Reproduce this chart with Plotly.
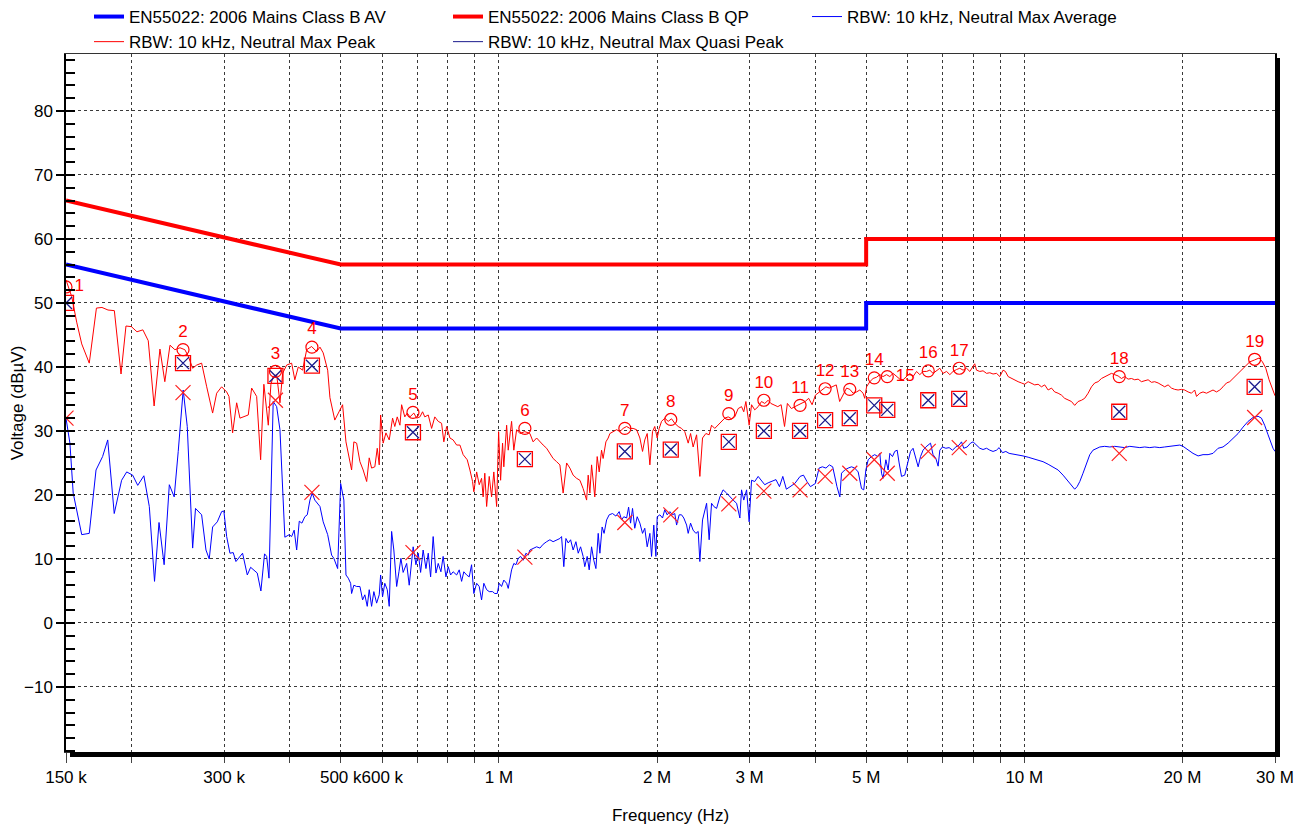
import plotly.graph_objects as go

# ---------------- data (frequencies in MHz, levels in dBuV) ----------------
limit_freq = [0.15, 0.5, 5.0, 5.0, 30.0]
limit_qp = [66, 56, 56, 60, 60]
limit_av = [56, 46, 46, 50, 50]

peak_freq = [0.150, 0.1538, 0.1572, 0.1607, 0.1661, 0.1714, 0.1756, 0.1803, 0.1854, 0.1909,
             0.1951, 0.1998, 0.2047, 0.2101, 0.2151, 0.2207, 0.2264, 0.2313, 0.2366, 0.2417,
             0.2472, 0.2525, 0.2563, 0.2613, 0.2660, 0.2718, 0.2779, 0.2852, 0.2903, 0.2967,
             0.3033, 0.3064, 0.3113, 0.3169, 0.3215, 0.3271, 0.3334, 0.3384, 0.3459, 0.3520,
             0.3570, 0.3640, 0.3682, 0.3719, 0.3776, 0.3831, 0.3876, 0.3945, 0.4032, 0.4089,
             0.4151, 0.4231, 0.4307, 0.4401, 0.4500, 0.4565, 0.4630, 0.4722, 0.4769, 0.4872,
             0.4983, 0.5041, 0.5116, 0.5244, 0.5296, 0.5361, 0.5439, 0.5517, 0.5602, 0.5665,
             0.5724, 0.5806, 0.5868, 0.5919, 0.5955, 0.6022, 0.6096, 0.6184, 0.6276, 0.6337,
             0.6405, 0.6481, 0.6529, 0.6621, 0.6692, 0.6771, 0.6888, 0.6974, 0.7074, 0.7157,
             0.7227, 0.7337, 0.7446, 0.7551, 0.7665, 0.7779, 0.7856, 0.7953, 0.8068, 0.8183,
             0.8310, 0.8430, 0.8550, 0.8704, 0.8807, 0.8910, 0.8960, 0.9071, 0.9174, 0.9269,
             0.9333, 0.9401, 0.9477, 0.9585, 0.9685, 0.9780, 0.9901, 0.9988, 1.0075, 1.0162,
             1.0218, 1.0345, 1.0417, 1.0572, 1.0676, 1.0808, 1.0965, 1.1202, 1.1455, 1.1618,
             1.1798, 1.1969, 1.2140, 1.2326, 1.2504, 1.2682, 1.2879, 1.3065, 1.3251, 1.3456,
             1.3650, 1.3845, 1.4058, 1.4262, 1.4465, 1.4687, 1.4790, 1.4900, 1.5010, 1.5112,
             1.5222, 1.5385, 1.5520, 1.5682, 1.5789, 1.5983, 1.6144, 1.6264, 1.6496, 1.6751,
             1.6993, 1.7235, 1.7501, 1.7754, 1.8007, 1.8286, 1.8550, 1.8767, 1.8951, 1.9154,
             1.9380, 1.9607, 1.9799, 2.0011, 2.0187, 2.0397, 2.0686, 2.0999, 2.1311, 2.1612,
             2.1940, 2.2266, 2.2581, 2.2923, 2.3164, 2.3423, 2.3783, 2.4127, 2.4409, 2.4772,
             2.5131, 2.5394, 2.5753, 2.6142, 2.6531, 2.6906, 2.7314, 2.7720, 2.8112, 2.8537,
             2.8961, 2.9246, 2.9517, 2.9945, 3.0258, 3.0686, 3.1150, 3.1613, 3.2060, 3.2546,
             3.2930, 3.3413, 3.3944, 3.4448, 3.4967, 3.5404, 3.6037, 3.6579, 3.7151, 3.7717,
             3.8268, 3.8865, 3.9456, 4.0032, 4.0679, 4.1276, 4.1927, 4.2554, 4.3183, 4.3866,
             4.4518, 4.5193, 4.5890, 4.6553, 4.7217, 4.7945, 4.8638, 4.9331, 4.9690, 5.0093,
             5.0817, 5.1541, 5.2336, 5.3092, 5.3849, 5.4680, 5.5470, 5.6261, 5.7130, 5.7955,
             5.8781, 5.9688, 6.0551, 6.1414, 6.2362, 6.3263, 6.4165, 6.5154, 6.6096, 6.7038,
             6.8072, 6.9056, 7.0040, 7.1122, 7.2150, 7.3178, 7.4308, 7.5382, 7.6456, 7.7636,
             7.8758, 7.9880, 8.0461, 8.1113, 8.2285, 8.3458, 8.4746, 8.5971, 8.7196, 8.8542,
             8.9822, 9.1101, 9.2037, 9.3153, 9.4537, 9.5874, 9.7325, 9.8770, 10.017, 10.169,
             10.320, 10.466, 10.624, 10.782, 10.935, 11.100, 11.265, 11.424, 11.597, 11.769,
             11.936, 12.116, 12.296, 12.470, 12.659, 12.847, 13.028, 13.226, 13.423, 13.613,
             13.818, 14.023, 14.222, 14.437, 14.652, 14.859, 15.084, 15.308, 15.524, 15.760,
             15.994, 16.220, 16.466, 16.710, 16.947, 17.203, 17.458, 17.705, 17.974, 18.241,
             18.499, 18.779, 19.058, 19.327, 19.620, 19.912, 20.193, 20.499, 20.803, 21.098,
             21.269, 21.576, 21.884, 22.221, 22.542, 22.863, 23.217, 23.552, 23.888, 24.256,
             24.607, 24.957, 25.342, 25.709, 26.075, 26.478, 26.861, 27.441, 27.978, 28.392,
             28.813, 29.231, 29.738, 30.0]
peak_level = [53.6, 51.0, 47.0, 43.6, 40.6, 49.2, 49.3, 48.9, 48.8, 38.9,
              46.4, 46.3, 45.5, 45.8, 44.1, 33.9, 42.8, 37.7, 43.4, 42.7,
              43.0, 42.7, 41.7, 39.8, 40.3, 40.6, 36.9, 32.8, 35.9, 36.9,
              36.1, 35.4, 29.7, 34.4, 32.0, 32.2, 32.5, 36.7, 35.4, 25.5,
              37.3, 30.9, 37.3, 38.5, 38.8, 34.4, 39.0, 40.3, 40.6, 38.0,
              40.0, 39.5, 42.7, 43.2, 42.4, 43.1, 42.2, 39.5, 35.2, 31.7,
              33.3, 34.1, 28.3, 23.9, 28.3, 28.1, 25.2, 23.9, 22.1, 25.8,
              24.2, 24.4, 27.3, 24.7, 32.5, 28.1, 29.7, 28.6, 32.0, 30.7,
              32.2, 30.9, 34.1, 32.2, 32.8, 32.2, 32.8, 32.0, 32.2, 33.0,
              32.2, 32.5, 30.4, 32.2, 31.5, 31.2, 28.3, 30.7, 28.9, 28.6,
              27.8, 27.8, 26.3, 25.5, 23.9, 22.1, 20.5, 23.6, 21.6, 22.6,
              19.7, 23.4, 18.2, 22.9, 19.7, 23.6, 18.2, 29.9, 22.3, 28.1,
              24.4, 30.9, 27.0, 31.5, 27.0, 30.2, 29.6, 29.9, 29.6, 28.3,
              28.9, 28.3, 27.8, 27.3, 26.5, 25.7, 25.2, 24.7, 20.3, 25.0,
              24.2, 23.1, 22.6, 22.3, 21.0, 19.2, 23.1, 20.3, 24.7, 21.8,
              19.7, 26.0, 23.6, 27.0, 25.7, 28.3, 28.9, 29.6, 29.9, 30.2,
              29.9, 30.4, 30.7, 30.4, 30.4, 30.2, 28.9, 26.8, 28.6, 29.6,
              24.7, 29.9, 30.7, 28.9, 30.4, 31.5, 32.0, 31.5, 31.9, 31.2,
              30.7, 30.4, 29.9, 28.1, 29.6, 27.5, 29.4, 22.9, 28.9, 29.6,
              29.4, 30.9, 30.4, 30.9, 31.5, 32.0, 32.2, 31.9, 32.2, 33.5,
              33.8, 33.0, 34.6, 30.9, 34.1, 33.3, 33.8, 34.6, 34.3, 34.8,
              34.3, 34.1, 33.8, 34.1, 30.7, 34.3, 33.5, 33.8, 34.1, 34.3,
              34.6, 35.1, 34.1, 35.6, 36.1, 36.4, 36.9, 36.7, 36.9, 37.2,
              34.6, 35.6, 36.7, 36.5, 35.9, 36.1, 36.4, 35.9, 35.1, 36.9,
              37.7, 38.2, 38.4, 38.8, 38.5, 38.8, 38.5, 39.0, 38.5, 38.1,
              38.0, 38.5, 39.0, 38.5, 39.3, 38.8, 39.3, 39.3, 39.5, 39.0,
              39.4, 39.8, 39.0, 39.3, 38.8, 39.3, 39.6, 39.8, 39.5, 39.8,
              39.3, 40.1, 40.5, 39.5, 39.3, 39.4, 39.0, 39.1, 38.9, 39.0,
              38.5, 39.5, 39.3, 38.5, 38.2, 38.0, 37.7, 37.5, 37.3, 37.7,
              37.5, 37.2, 37.3, 36.9, 37.2, 36.4, 36.7, 36.1, 35.9, 35.6,
              35.1, 34.8, 34.6, 34.0, 34.6, 34.8, 35.1, 35.9, 36.9, 37.5,
              37.7, 38.2, 38.5, 38.8, 39.0, 38.8, 38.6, 38.2, 38.5, 38.1,
              38.2, 38.0, 38.1, 37.7, 37.9, 38.0, 37.6, 37.7, 37.5, 37.2,
              36.9, 37.2, 36.7, 36.5, 36.4, 36.5, 36.4, 36.1, 35.9, 36.4,
              35.4, 35.9, 36.1, 35.9, 36.1, 36.4, 36.1, 36.4, 36.9, 37.5,
              37.7, 38.2, 38.8, 39.3, 39.8, 40.3, 40.8, 41.1, 41.4, 40.8,
              39.8, 38.0, 36.1, 35.5]

avg_freq = [0.150, 0.1526, 0.1548, 0.1572, 0.1607, 0.1661, 0.1711, 0.1761, 0.1801, 0.1853,
            0.1914, 0.1957, 0.2009, 0.2054, 0.2110, 0.2161, 0.2211, 0.2255, 0.2306, 0.2359,
            0.2410, 0.2453, 0.2507, 0.2552, 0.2613, 0.2646, 0.2718, 0.2770, 0.2810, 0.2852,
            0.2911, 0.2967, 0.2996, 0.3033, 0.3077, 0.3121, 0.3159, 0.3252, 0.3320, 0.3369,
            0.3468, 0.3524, 0.3581, 0.3614, 0.3651, 0.3719, 0.3776, 0.3831, 0.3914, 0.3990,
            0.4032, 0.4077, 0.4122, 0.4169, 0.4218, 0.4272, 0.4318, 0.4369, 0.4412, 0.4463,
            0.4511, 0.4565, 0.4630, 0.4722, 0.4804, 0.4852, 0.4933, 0.4998, 0.5069, 0.5116,
            0.5168, 0.5222, 0.5244, 0.5296, 0.5361, 0.5439, 0.5503, 0.5557, 0.5616, 0.5665,
            0.5724, 0.5781, 0.5852, 0.5919, 0.5955, 0.6006, 0.6065, 0.6131, 0.6184, 0.6249,
            0.6310, 0.6389, 0.6453, 0.6509, 0.6573, 0.6675, 0.6750, 0.6821, 0.6868, 0.6952,
            0.7022, 0.7096, 0.7175, 0.7264, 0.7337, 0.7414, 0.7497, 0.7589, 0.7665, 0.7756,
            0.7832, 0.7929, 0.8009, 0.8093, 0.8183, 0.8310, 0.8404, 0.8492, 0.8575, 0.8682,
            0.8780, 0.8872, 0.8960, 0.9071, 0.9174, 0.9269, 0.9361, 0.9477, 0.9585, 0.9726,
            0.9822, 0.9927, 1.0014, 1.0118, 1.0218, 1.0345, 1.0417, 1.0572, 1.0676, 1.0775,
            1.0884, 1.0998, 1.1121, 1.1257, 1.1371, 1.1455, 1.1618, 1.1798, 1.1969, 1.2140,
            1.2326, 1.2504, 1.2682, 1.2879, 1.3065, 1.3161, 1.3291, 1.3414, 1.3550, 1.3692,
            1.3845, 1.4015, 1.4157, 1.4305, 1.4465, 1.4570, 1.4725, 1.4854, 1.5010, 1.5157,
            1.5298, 1.5453, 1.5567, 1.5722, 1.5856, 1.6033, 1.6215, 1.6454, 1.6699, 1.6941,
            1.7118, 1.7287, 1.7501, 1.7655, 1.7808, 1.7962, 1.8138, 1.8333, 1.8550, 1.8767,
            1.8951, 1.9154, 1.9380, 1.9523, 1.9715, 1.9898, 2.0011, 2.0248, 2.0485, 2.0686,
            2.0907, 2.1155, 2.1402, 2.1612, 2.1788, 2.2036, 2.2266, 2.2486, 2.2764, 2.2923,
            2.3164, 2.3423, 2.3710, 2.3949, 2.4127, 2.4409, 2.4649, 2.4849, 2.5131, 2.5394,
            2.5644, 2.5961, 2.6337, 2.6712, 2.7125, 2.7517, 2.7909, 2.8340, 2.8749, 2.8961,
            2.9246, 2.9609, 2.9945, 3.0258, 3.0686, 3.1150, 3.1613, 3.2060, 3.2546, 3.3678,
            3.4196, 3.4701, 3.5249, 3.6579, 3.7427, 3.7993, 3.8577, 3.9169, 4.0032, 4.0679,
            4.1276, 4.1927, 4.2554, 4.3183, 4.3997, 4.4558, 4.4886, 4.5521, 4.6210, 4.6896,
            4.7560, 4.8280, 4.8997, 4.9480, 4.9938, 5.0443, 5.1190, 5.1913, 5.2638, 5.3092,
            5.3484, 5.3849, 5.4511, 5.5062, 5.5470, 5.6119, 5.6671, 5.7278, 5.7779, 5.8383,
            5.9208, 6.0105, 6.0736, 6.1414, 6.2169, 6.2797, 6.3456, 6.4165, 6.4953, 6.5609,
            6.6297, 6.7038, 6.7862, 6.8547, 6.9056, 6.9864, 7.0902, 7.1930, 7.2994, 7.4078,
            7.5152, 7.5937, 7.6686, 7.7837, 7.8998, 7.9880, 8.1113, 8.2285, 8.3458, 8.4746,
            8.5971, 8.7196, 8.8542, 8.9548, 9.0872, 9.2222, 9.3559, 9.5182, 9.7325, 9.9445,
            10.169, 10.390, 10.624, 10.856, 11.100, 11.342, 11.597, 11.850, 12.116, 12.349,
            12.470, 12.603, 12.753, 12.934, 13.135, 13.324, 13.514, 13.722, 13.921, 14.222,
            14.545, 14.859, 15.196, 15.524, 15.877, 16.220, 16.588, 16.947, 17.331, 17.705,
            18.107, 18.499, 18.918, 19.327, 19.766, 20.048, 20.499, 20.945, 21.417, 21.884,
            22.376, 22.863, 23.379, 23.888, 24.425, 24.957, 25.519, 26.075, 26.663, 27.243,
            27.857, 28.270, 28.670, 29.104, 29.738, 30.0]
avg_level = [32.0, 28.1, 20.3, 17.7, 13.8, 14.0, 23.9, 26.0, 28.6, 17.1,
             22.3, 23.6, 23.1, 21.5, 23.0, 18.2, 6.5, 15.7, 9.1, 21.6,
             19.7, 26.8, 36.4, 30.7, 11.7, 17.9, 16.9, 11.4, 10.0, 15.0,
             15.8, 17.4, 17.5, 13.5, 10.9, 11.0, 9.6, 10.9, 7.5, 8.7,
             7.8, 5.0, 10.8, 10.4, 7.0, 34.6, 33.8, 30.2, 13.4, 13.8,
             13.5, 14.5, 11.4, 15.9, 15.6, 16.6, 16.9, 19.2, 20.3, 19.2,
             18.7, 18.2, 15.8, 13.8, 10.6, 10.1, 8.5, 21.8, 19.2, 7.5,
             7.0, 6.2, 4.6, 5.9, 5.7, 5.7, 3.6, 4.4, 2.6, 5.2,
             2.6, 4.9, 3.1, 4.4, 7.5, 4.1, 6.2, 5.2, 2.6, 14.3,
             11.4, 5.7, 8.0, 10.1, 7.9, 9.3, 5.9, 9.8, 11.9, 9.1,
             10.9, 7.9, 11.4, 8.5, 10.9, 7.2, 13.5, 7.8, 9.3, 8.0,
             10.4, 7.2, 8.8, 7.5, 8.0, 7.5, 8.3, 6.5, 8.0, 7.5,
             7.2, 9.1, 4.6, 6.2, 5.7, 3.6, 6.2, 5.2, 4.9, 4.9,
             4.6, 4.6, 6.2, 5.7, 6.7, 6.2, 5.4, 8.3, 9.3, 9.1,
             10.1, 10.4, 9.8, 10.9, 10.6, 11.4, 11.7, 11.9, 11.7, 12.3,
             12.7, 13.0, 12.7, 13.0, 13.2, 13.5, 8.8, 13.2, 12.5, 13.0,
             11.4, 12.7, 10.9, 11.9, 10.4, 8.8, 10.4, 8.3, 11.9, 9.8,
             8.5, 14.0, 10.9, 15.0, 14.0, 16.1, 16.9, 17.1, 16.7, 17.4,
             16.1, 16.6, 16.4, 18.1, 15.6, 17.9, 14.8, 16.6, 15.6, 14.0,
             14.8, 11.9, 14.0, 10.4, 15.3, 10.4, 16.6, 16.9, 16.4, 17.7,
             16.9, 17.4, 16.9, 17.1, 15.3, 16.9, 16.9, 16.4, 15.3, 14.0,
             15.6, 14.5, 14.0, 14.3, 9.6, 16.1, 17.4, 18.7, 13.0, 18.7,
             18.2, 17.9, 19.7, 20.8, 20.3, 19.7, 19.2, 18.7, 16.4, 20.8,
             19.2, 20.8, 15.8, 22.3, 22.1, 22.9, 22.3, 21.6, 21.9, 22.4,
             21.3, 22.9, 20.9, 21.8, 22.9, 23.1, 22.1, 21.3, 21.8, 24.2,
             24.4, 24.2, 24.7, 24.4, 21.3, 19.7, 23.4, 23.9, 24.2, 24.4,
             24.2, 23.6, 21.0, 20.8, 23.9, 25.5, 26.0, 26.3, 26.0, 26.5,
             23.4, 22.6, 25.5, 23.9, 26.5, 26.0, 26.8, 27.0, 25.0, 22.9,
             23.1, 25.5, 26.8, 27.3, 25.7, 24.4, 26.0, 27.0, 27.5, 27.8,
             28.1, 26.3, 25.7, 24.5, 27.0, 27.5, 27.3, 27.4, 27.0, 27.5,
             27.8, 28.3, 27.3, 27.5, 28.1, 28.3, 27.8, 27.3, 27.1, 27.3,
             27.0, 26.8, 27.0, 27.4, 26.6, 26.8, 26.5, 26.4, 26.3, 26.1,
             25.9, 25.7, 25.5, 25.2, 24.8, 24.4, 23.9, 23.1, 22.1, 21.3,
             20.9, 21.3, 22.1, 23.4, 25.0, 26.3, 27.0, 27.3, 27.5, 27.6,
             27.5, 27.6, 27.5, 27.4, 27.6, 27.5, 27.4, 27.5, 27.4, 27.5,
             27.4, 27.5, 27.6, 27.6, 27.8, 27.6, 27.0, 26.5, 26.1, 26.3,
             26.3, 26.5, 27.3, 27.5, 28.1, 28.9, 29.6, 30.6, 31.5, 32.1,
             32.3, 32.0, 30.9, 29.4, 27.3, 26.8]

marker_ids = ["1", "2", "3", "4", "5", "6", "7", "8", "9", "10",
              "11", "12", "13", "14", "15", "16", "17", "18", "19"]
marker_freq = [0.150, 0.2505, 0.3756, 0.4407, 0.6862, 1.1206, 1.7366, 2.124, 2.739, 3.194,
               3.743, 4.177, 4.654, 5.181, 5.485, 6.564, 7.519, 15.16, 27.44]
marker_peak = [52.5, 42.7, 39.3, 43.1, 32.9, 30.4, 30.4, 31.8, 32.7, 34.8,
               34.0, 36.6, 36.5, 38.3, 38.5, 39.4, 39.8, 38.5, 41.2]
marker_qp = [50.0, 40.6, 38.6, 40.2, 29.8, 25.6, 26.8, 27.1, 28.3, 30.0,
             30.0, 31.7, 32.0, 34.0, 33.3, 34.8, 35.0, 33.0, 36.9]
marker_av = [32.0, 36.0, 34.8, 20.4, 11.0, 10.3, 15.7, 16.9, 18.6, 20.6,
             20.8, 22.9, 23.4, 25.5, 23.4, 26.8, 27.4, 26.5, 32.1]

x_tick_freq = [0.15, 0.2, 0.3, 0.4, 0.5, 0.6, 0.7, 0.8, 0.9, 1, 2, 3, 4, 5, 6, 7, 8, 9, 10, 20, 30]
x_tick_text = ["150 k", "", "300 k", "", "500 k", "600 k", "", "", "", "1 M", "2 M", "3 M", "",
               "5 M", "", "", "", "", "10 M", "20 M", "30 M"]
y_tick_vals = [-10, 0, 10, 20, 30, 40, 50, 60, 70, 80]

# ---------------- figure ----------------
HZ = 1e6
def hz(v):
    return [f * HZ for f in v]

FONT = "Arial, Liberation Sans, sans-serif"
FS = 17
GRID = "#3a3a3a"
fig = go.Figure()

fig.add_trace(go.Scatter(x=hz(avg_freq), y=avg_level, mode="lines",
                         line=dict(color="#0000ff", width=1),
                         name="RBW: 10 kHz, Neutral Max Average", legendrank=3))
fig.add_trace(go.Scatter(x=hz(peak_freq), y=peak_level, mode="lines",
                         line=dict(color="#ff0000", width=1),
                         name="RBW: 10 kHz, Neutral Max Peak", legendrank=4))
fig.add_trace(go.Scatter(x=hz(limit_freq), y=limit_av, mode="lines",
                         line=dict(color="#0000ff", width=4),
                         name="EN55022: 2006 Mains Class B AV", legendrank=1))
fig.add_trace(go.Scatter(x=hz(limit_freq), y=limit_qp, mode="lines",
                         line=dict(color="#ff0000", width=4),
                         name="EN55022: 2006 Mains Class B QP", legendrank=2))
# quasi-peak legend entry (line style as in the original legend)
fig.add_trace(go.Scatter(x=[None], y=[None], mode="lines",
                         line=dict(color="#1a1a8c", width=1),
                         name="RBW: 10 kHz, Neutral Max Quasi Peak", legendrank=5))

# markers
fig.add_trace(go.Scatter(x=hz(marker_freq), y=marker_qp, mode="markers", showlegend=False,
                         marker=dict(symbol="square-open", size=15, color="#ff0000",
                                     line=dict(width=1.3, color="#ff0000"))))
fig.add_trace(go.Scatter(x=hz(marker_freq), y=marker_qp, mode="markers", showlegend=False,
                         marker=dict(symbol="x-thin-open", size=12, color="#1a1a8c",
                                     line=dict(width=1.3, color="#1a1a8c"))))
fig.add_trace(go.Scatter(x=hz(marker_freq), y=marker_av, mode="markers", showlegend=False,
                         marker=dict(symbol="x-thin-open", size=15, color="#ff2020",
                                     line=dict(width=1.2, color="#ff2020"))))
text_pos = ["middle right" if m in ("1", "15") else "top center" for m in marker_ids]
fig.add_trace(go.Scatter(x=hz(marker_freq), y=marker_peak, mode="markers+text", showlegend=False,
                         text=marker_ids, textposition=text_pos,
                         textfont=dict(family=FONT, size=FS, color="#ff0000"),
                         marker=dict(symbol="circle-open", size=12, color="#ff0000",
                                     line=dict(width=1.2, color="#ff0000"))))

# page has an 8 px body margin, so the figure is sized to fit inside it
W, H = 1293, 817
L, R, T, B = 58, 26, 46, 73
pw, ph = W - L - R, H - T - B
sh = 5  # shadow thickness (px)

fig.update_layout(
    width=W, height=H,
    margin=dict(l=L, r=R, t=T, b=B, pad=0, autoexpand=False),
    paper_bgcolor="white", plot_bgcolor="white",
    font=dict(family=FONT, size=FS, color="black"),
    showlegend=True,
    legend=dict(orientation="h", x=23 / pw, xanchor="left",
                y=1 + (T + 9) / ph, yanchor="top",
                font=dict(family=FONT, size=FS, color="black"),
                entrywidth=314, entrywidthmode="pixels",
                bgcolor="rgba(0,0,0,0)", borderwidth=0, tracegroupgap=0),
    xaxis=dict(type="log", range=[5.176091, 7.477121], automargin=False,
               tickmode="array", tickvals=hz(x_tick_freq), ticktext=x_tick_text,
               tickangle=0,
               ticks="outside", ticklen=10, tickwidth=1, tickcolor="#444",
               showgrid=True, gridcolor=GRID, griddash="dot", gridwidth=1,
               showline=True, linecolor="#333", linewidth=1, mirror=True,
               zeroline=False,
               tickfont=dict(family=FONT, size=FS, color="black"),
               title=dict(text="Frequency (Hz)", standoff=33,
                          font=dict(family=FONT, size=FS, color="black"))),
    yaxis=dict(range=[-20.16, 88.9], automargin=False,
               tickmode="array", tickvals=y_tick_vals,
               ticks="outside", ticklen=8, tickwidth=1.5, tickcolor="black",
               minor=dict(tickmode="linear", tick0=0, dtick=2, ticks="inside",
                          ticklen=9, tickwidth=1.5, tickcolor="black", showgrid=False),
               showgrid=True, gridcolor=GRID, griddash="dot", gridwidth=1,
               showline=True, linecolor="black", linewidth=1.5, mirror=True,
               zeroline=False,
               tickfont=dict(family=FONT, size=FS, color="black"),
               title=dict(text="Voltage (dBµV)", standoff=1,
                          font=dict(family=FONT, size=FS, color="black"))),
    shapes=[
        # drop shadow along the right and bottom edges of the plot frame
        dict(type="rect", xref="paper", yref="paper", layer="above",
             x0=1, x1=1 + sh / pw, y0=-sh / ph, y1=1 - 4 / ph,
             fillcolor="black", line=dict(width=0)),
        dict(type="rect", xref="paper", yref="paper", layer="above",
             x0=4 / pw, x1=1 + sh / pw, y0=-sh / ph, y1=0,
             fillcolor="black", line=dict(width=0)),
    ],
)

fig.write_html("out.html")
